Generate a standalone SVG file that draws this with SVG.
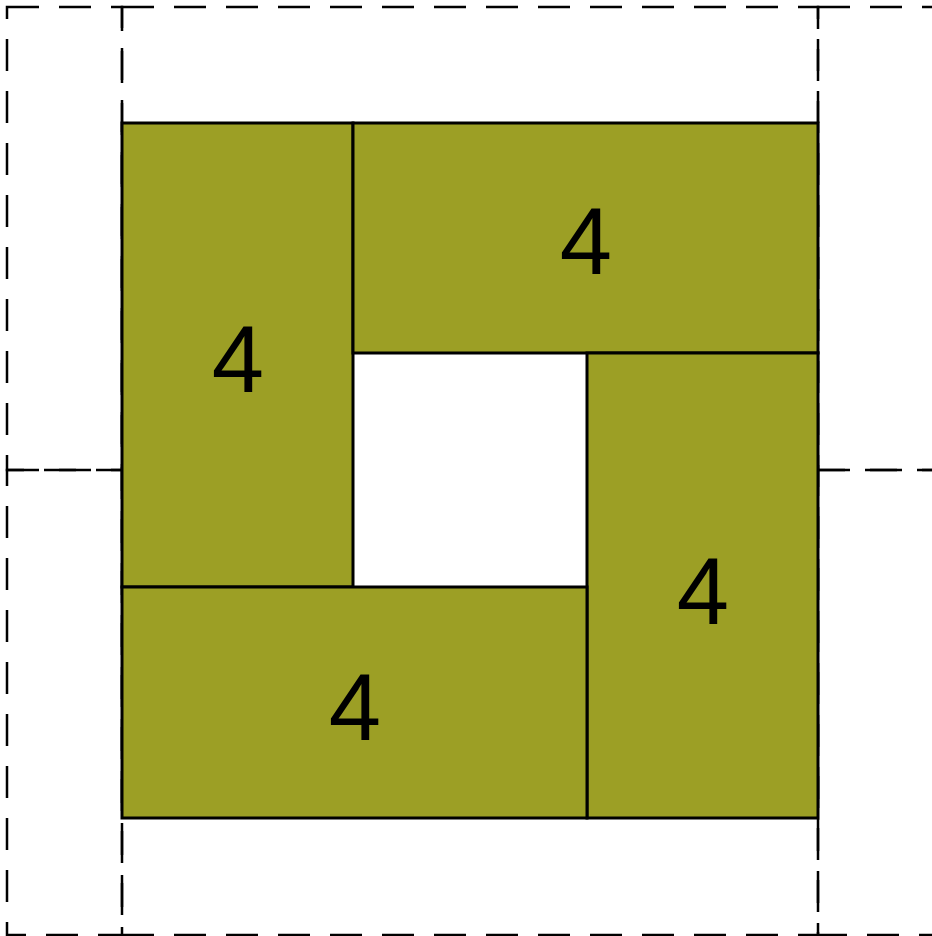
<svg xmlns="http://www.w3.org/2000/svg" width="932" height="936" viewBox="0 0 932 936">
<style>
.dash{fill:none;stroke:#000;stroke-width:2.5;stroke-dasharray:32 20}
.blk rect{fill:#9c9f25;stroke:#000;stroke-width:3}
.blk text{font-family:"Liberation Sans",Arial,sans-serif;font-size:94px;fill:#000;text-anchor:middle}
</style>
<rect width="932" height="936" fill="#fff"/>
<g id="regions">
<rect class="dash" x="7" y="7" width="115" height="463"/>
<rect class="dash" x="7" y="470" width="115" height="465"/>
<rect class="dash" x="122" y="7" width="696" height="928"/>
<rect class="dash" x="818" y="7" width="120" height="463"/>
<rect class="dash" x="818" y="470" width="120" height="465"/>
</g>
<g id="block-left" class="blk"><rect x="122" y="123" width="231" height="464"/><text x="238" y="392">4</text></g>
<g id="block-top" class="blk"><rect x="353" y="123" width="465" height="230"/><text x="586" y="274">4</text></g>
<g id="block-right" class="blk"><rect x="587" y="353" width="231" height="465"/><text x="703" y="624">4</text></g>
<g id="block-bottom" class="blk"><rect x="122" y="587" width="465" height="231"/><text x="355" y="740">4</text></g>
<g id="connectors"></g>
</svg>
